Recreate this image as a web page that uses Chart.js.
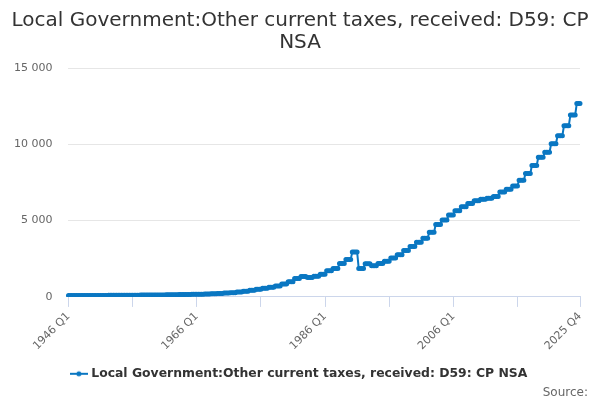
<!DOCTYPE html>
<html>
<head>
<meta charset="utf-8">
<script src="https://cdn.jsdelivr.net/npm/chart.js@4/dist/chart.umd.min.js"></script>
<style>
  html, body { margin: 0; padding: 0; background: #fff; }
  #wrap { width: 600px; height: 400px; }
</style>
</head>
<body>
<div id="wrap"><canvas id="chart"></canvas></div>
<script>
// fiscal years (Q2 to Q1 of the next year)
const fiscalYears = [
  1945, 1946, 1947, 1948, 1949, 1950, 1951, 1952, 1953, 1954,
  1955, 1956, 1957, 1958, 1959, 1960, 1961, 1962, 1963, 1964,
  1965, 1966, 1967, 1968, 1969, 1970, 1971, 1972, 1973, 1974,
  1975, 1976, 1977, 1978, 1979, 1980, 1981, 1982, 1983, 1984,
  1985, 1986, 1987, 1988, 1989, 1990, 1991, 1992, 1993, 1994,
  1995, 1996, 1997, 1998, 1999, 2000, 2001, 2002, 2003, 2004,
  2005, 2006, 2007, 2008, 2009, 2010, 2011, 2012, 2013, 2014,
  2015, 2016, 2017, 2018, 2019, 2020, 2021, 2022, 2023, 2024,
  2025,
];
const fiscalValues = [
  90, 90, 92, 94, 96, 98, 100, 102, 105, 108,
  111, 115, 119, 123, 128, 133, 140, 147, 155, 163,
  172, 182, 195, 210, 228, 250, 280, 320, 370, 430,
  500, 570, 640, 720, 850, 1000, 1200, 1340, 1270, 1360,
  1480, 1710, 1860, 2190, 2450, 2950, 1870, 2180, 2040, 2190,
  2340, 2550, 2770, 3050, 3310, 3590, 3850, 4240, 4740, 5040,
  5370, 5650, 5910, 6120, 6300, 6400, 6470, 6580, 6880, 7050,
  7270, 7640, 8090, 8610, 9150, 9480, 10040, 10560, 11210, 11920,
  12680,
];
const firstYear = 1946;
const lastYear = 2025;
const shownLabels = ['1946 Q1', '1966 Q1', '1986 Q1', '2006 Q1', '2025 Q4'];
const yTicks = [0, 5000, 10000, 15000];

const seriesName = 'Local Government:Other current taxes, received: D59: CP NSA';
const sourceText = 'Source:';
const blue = '#0a77c2';

// quarterly labels; each quarter takes the value of its fiscal year
const labels = [];
const values = [];
for (let y = firstYear; y <= lastYear; y++) {
  for (let q = 1; q <= 4; q++) {
    labels.push(y + ' Q' + q);
    const fy = q === 1 ? y - 1 : y;
    values.push(fiscalValues[fiscalYears.indexOf(fy)]);
  }
}
const lastIdx = labels.length - 1;

const fmt = (v) => String(v).replace(/\B(?=(\d{3})+(?!\d))/g, ' ');

// legend symbol: short line with a dot
const sym = document.createElement('canvas');
sym.width = 18; sym.height = 8;
const sctx = sym.getContext('2d');
sctx.strokeStyle = blue; sctx.lineWidth = 2;
sctx.beginPath(); sctx.moveTo(0, 4); sctx.lineTo(18, 4); sctx.stroke();
sctx.fillStyle = blue;
sctx.beginPath(); sctx.arc(9, 4, 2.5, 0, Math.PI * 2); sctx.fill();

const isMajor = (i) => i % 40 === 0 || i === lastIdx;

// "Source:" credit in the bottom right corner
const creditPlugin = {
  id: 'credit',
  afterDraw(chart) {
    const ctx = chart.ctx;
    ctx.save();
    ctx.font = '12px "DejaVu Sans"';
    ctx.fillStyle = '#666666';
    ctx.textAlign = 'right';
    ctx.textBaseline = 'middle';
    ctx.fillText(sourceText, chart.width - 12, chart.height - 7);
    ctx.restore();
  },
};

new Chart(document.getElementById('chart'), {
  type: 'line',
  data: {
    labels: labels,
    datasets: [{
      label: seriesName,
      data: values,
      borderColor: blue,
      backgroundColor: blue,
      borderWidth: 2,
      pointRadius: 1.5,
      pointHoverRadius: 3,
      tension: 0,
    }],
  },
  plugins: [creditPlugin],
  options: {
    responsive: true,
    maintainAspectRatio: false,
    animation: false,
    layout: { padding: { left: -2, right: -2, top: 2, bottom: 10 } },
    plugins: {
      title: {
        display: true,
        text: ['Local Government:Other current taxes, received: D59: CP', 'NSA'],
        color: '#333333',
        font: { family: 'DejaVu Sans', size: 20, weight: 'normal', lineHeight: 1.1 },
        padding: { top: 8, bottom: 14 },
      },
      legend: {
        position: 'bottom',
        labels: {
          usePointStyle: true,
          pointStyle: sym,
          color: '#333333',
          font: { family: 'DejaVu Sans', size: 12.4, weight: 'bold' },
          padding: 12,
        },
      },
      tooltip: { enabled: false },
    },
    scales: {
      x: {
        offset: false,
        border: { color: '#ccd6eb', width: 1 },
        grid: {
          drawOnChartArea: false,
          drawTicks: true,
          tickLength: 10,
          color: (ctx) => isMajor(ctx.index) ? '#ccd6eb' : 'rgba(0,0,0,0)',
        },
        ticks: {
          autoSkip: false,
          maxRotation: 45,
          minRotation: 45,
          color: '#666666',
          font: { family: 'DejaVu Sans', size: 11 },
          padding: 3,
          callback: function (v, i) {
            const l = labels[i];
            return shownLabels.includes(l) ? l : '';
          },
        },
        afterFit: (scale) => { scale.paddingRight = Math.max(scale.paddingRight, 20); },
      },
      y: {
        min: 0,
        max: 15000,
        border: { display: false },
        grid: { color: '#e6e6e6', drawTicks: false },
        afterBuildTicks: (axis) => { axis.ticks = yTicks.map((v) => ({ value: v })); },
        ticks: {
          color: '#666666',
          font: { family: 'DejaVu Sans', size: 11 },
          padding: 16,
          callback: (v) => fmt(v),
        },
      },
    },
  },
});
</script>
</body>
</html>
